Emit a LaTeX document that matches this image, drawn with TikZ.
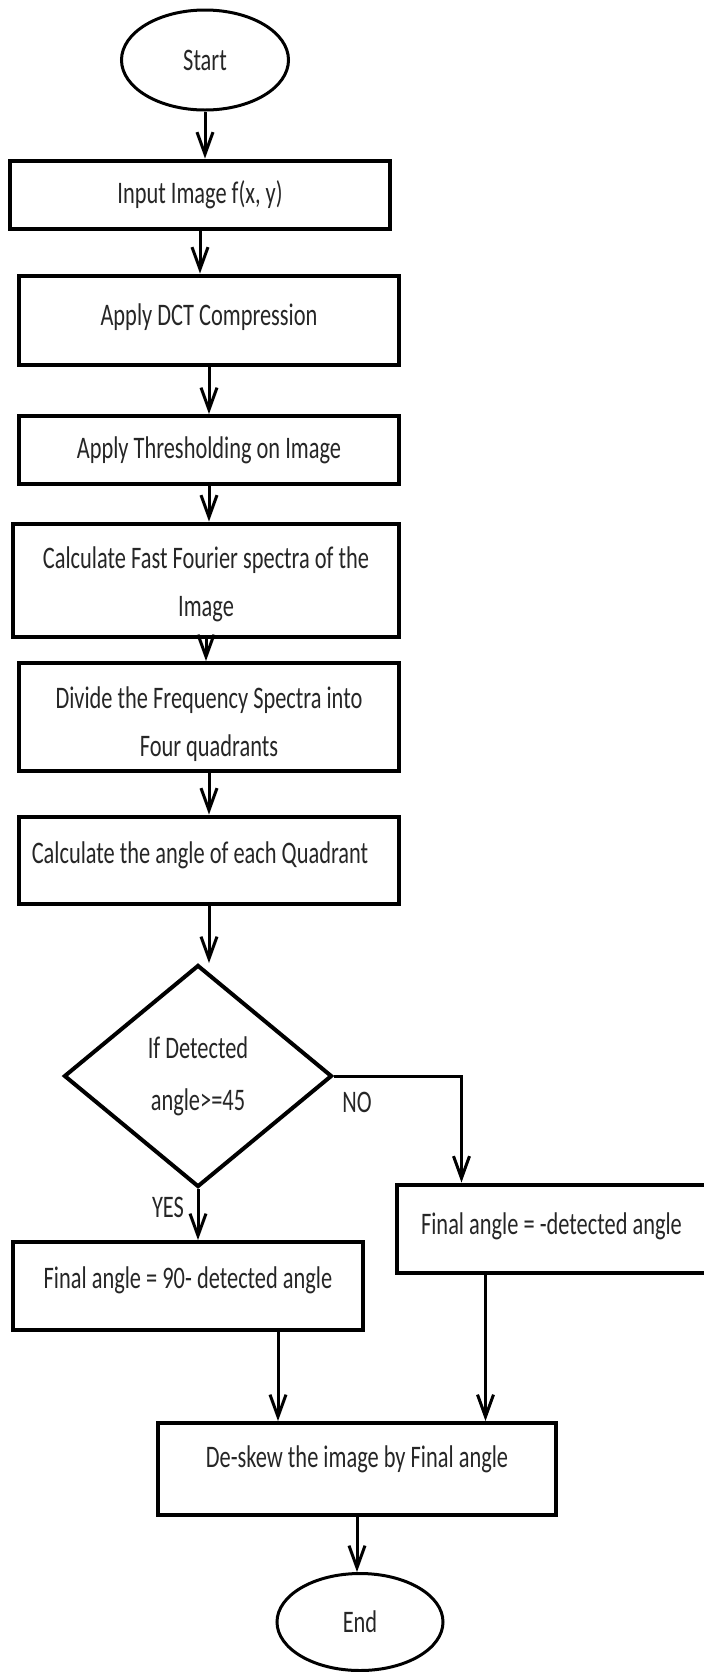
\documentclass[tikz,border=0pt]{standalone}
\usepackage{graphicx}
\usepackage{fontspec}
\setmainfont{Carlito}
\usetikzlibrary{shapes.geometric}
\usetikzlibrary{arrows.meta}
\usetikzlibrary{positioning}
\newcommand{\stxt}[2][0pt]{\raisebox{#1}[\height][\depth]{\scalebox{1}[1.4]{#2}}}
\tikzset{
    flowbox/.style={draw, line width=2pt, rectangle, inner sep=0pt, align=center, text=black!85, font=\fontsize{11.2pt}{24pt}\selectfont},
    terminal/.style={draw, line width=1.5pt, ellipse, inner sep=0pt, text=black!85, font=\fontsize{11.2pt}{24pt}\selectfont},
    decision/.style={draw, line width=2pt, diamond, inner sep=0pt, align=center, text=black!85, font=\fontsize{11.2pt}{26pt}\selectfont},
    flowarrow/.style={line width=1.5pt, -{Straight Barb[length=11pt,width=8pt]}},
    lbl/.style={inner sep=0pt, text=black!85, font=\fontsize{11.2pt}{24pt}\selectfont}
}

\begin{document}
\begin{tikzpicture}[x=0.5pt, y=-0.5pt]
            \useasboundingbox (0,0) rectangle (704,1672);
            \clip (0,0) rectangle (704,1672);
            \node[terminal, minimum width=83.5pt, minimum height=50pt] (start) at (205,60) {\stxt{Start}};
            \node[flowbox, minimum width=190pt, minimum height=34pt] (input) at (200,194.5) {\stxt{Input Image f(x, y)}};
            \node[flowbox, minimum width=190pt, minimum height=44.5pt] (dct) at (209,320) {\stxt[1.5pt]{Apply DCT Compression}};
            \node[flowbox, minimum width=190pt, minimum height=34pt] (thresh) at (209,450) {\stxt{Apply Thresholding on Image}};
            \node[flowbox, minimum width=193pt, minimum height=56.5pt] (fft) at (206,580) {\stxt[-2pt]{Calculate Fast Fourier spectra of the}\\\stxt[-2pt]{Image}};
            \node[flowbox, minimum width=190pt, minimum height=54pt] (divide) at (209,717) {\stxt[-3.5pt]{Divide the Frequency Spectra into}\\\stxt[-3.5pt]{Four quadrants}};
            \node[flowbox, minimum width=190pt, minimum height=43.5pt] (quadangle) at (209,860) {\stxt[2.5pt]{Calculate the angle of each Quadrant}\rule{9pt}{0pt}};
            \node[decision, minimum width=134pt, minimum height=111pt] (check) at (198,1076) {\stxt{If Detected}\\\stxt{angle>=45}};
            \node[flowbox, minimum width=154.5pt, minimum height=44pt] (negang) at (551.5,1228.5) {\stxt[1pt]{Final angle = -detected angle}};
            \node[flowbox, minimum width=175pt, minimum height=44pt] (subang) at (188,1286) {\stxt[3pt]{Final angle = 90- detected angle}};
            \node[flowbox, minimum width=199pt, minimum height=46pt] (deskew) at (357,1469) {\stxt[5pt]{De-skew the image by Final angle}};
            \node[terminal, minimum width=83pt, minimum height=48.5pt] (finish) at (360,1622) {\stxt{End}};
            \node[lbl] (yes) at (168,1207) {\stxt{YES}};
            \node[lbl] (no) at (357,1102) {\stxt{NO}};

            \draw[flowarrow] (start.south) -- (start.south |- input.north);
            \draw[flowarrow] (input.south) -- (input.south |- dct.north);
            \draw[flowarrow] (dct.south) -- (dct.south |- thresh.north);
            \draw[flowarrow] (thresh.south) -- (thresh.south |- fft.north);
            \draw[flowarrow] (fft.south) -- (fft.south |- divide.north);
            \draw[flowarrow] (divide.south) -- (divide.south |- quadangle.north);
            \draw[flowarrow] (quadangle.south) -- (quadangle.south |- check.north);
            \draw[flowarrow] (check.south) -- (check.south |- subang.north);
            \draw[flowarrow] (check.east) -| ([xshift=-45pt]negang.north);
            \draw[flowarrow] ([xshift=45pt]subang.south) -- ([xshift=45pt]subang.south |- deskew.north);
            \draw[flowarrow] ([xshift=-33pt]negang.south) -- ([xshift=-33pt]negang.south |- deskew.north);
            \draw[flowarrow] (deskew.south) -- (deskew.south |- finish.north);
        \end{tikzpicture}
\end{document}
